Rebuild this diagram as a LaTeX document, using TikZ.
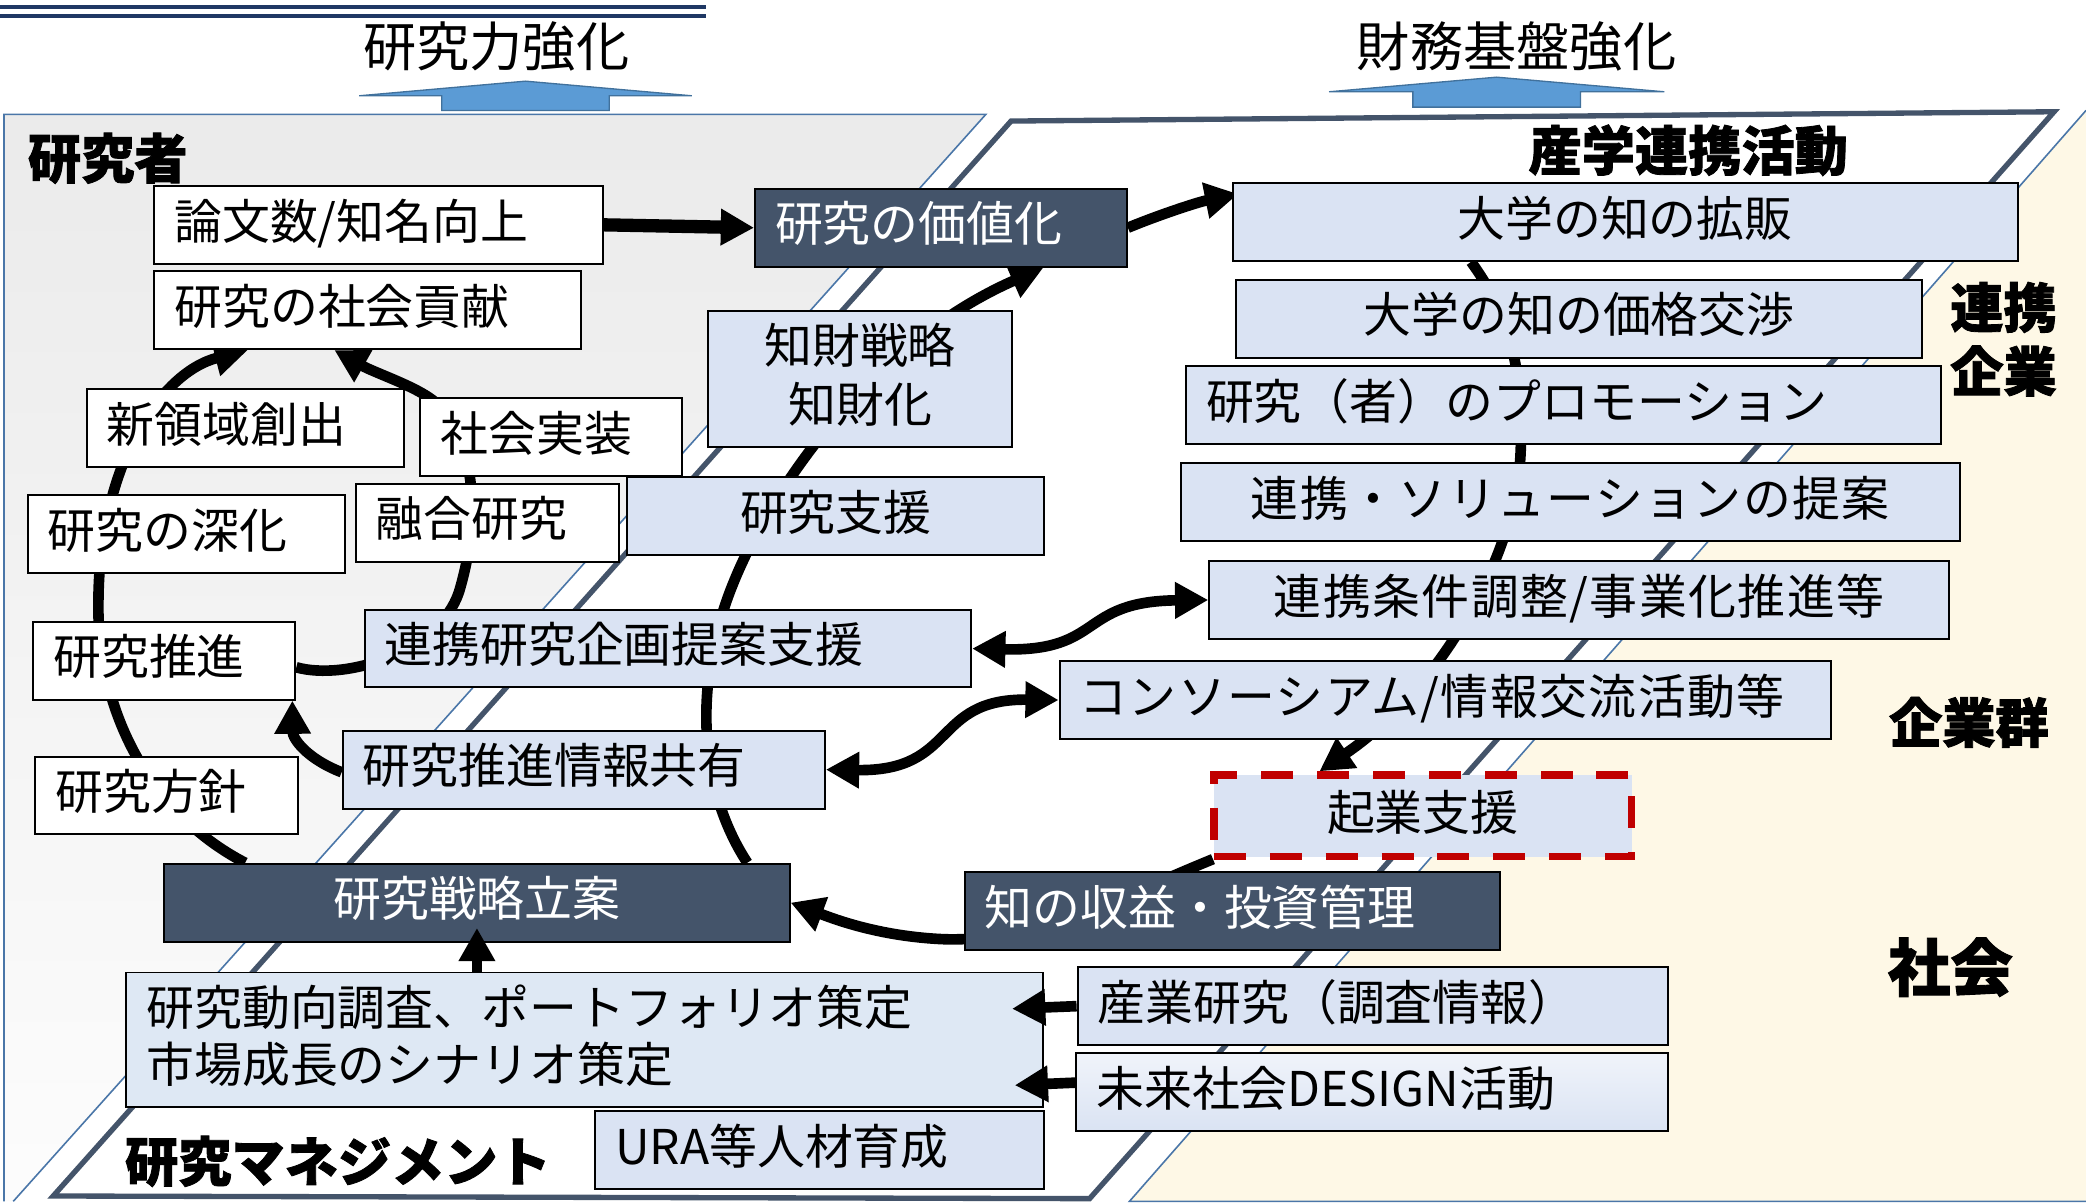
\documentclass[tikz,border=0pt]{standalone}
\usepackage{fontspec}
\setmainfont{Noto Sans CJK JP}[BoldFeatures={FakeBold=1.5}]
\newfontfamily\jpwide{Noto Sans CJK JP}[LetterSpace=3]
\usetikzlibrary{positioning, calc, arrows.meta}

\definecolor{slate}{HTML}{44546A}
\definecolor{boxblue}{HTML}{DAE3F3}
\definecolor{paleblue}{HTML}{DEE8F4}
\definecolor{cream}{HTML}{FEF8E6}
\definecolor{edgeblue}{HTML}{4A76A8}
\definecolor{navy}{HTML}{1F3864}
\definecolor{arrowblue}{HTML}{5B9BD5}
\definecolor{arrowedge}{HTML}{41719C}
\definecolor{redline}{HTML}{C00000}

\pgfdeclarelayer{back}
\pgfdeclarelayer{lines}
\pgfsetlayers{back,lines,main}

\begin{document}
\begin{tikzpicture}[x=1pt, y=-1pt,
    box/.style={draw, line width=1.5pt, minimum height=58.5pt, inner xsep=15pt, inner ysep=0pt, text depth=9pt, font=\fontsize{36}{43}\selectfont},
    wbox/.style={box, fill=white},
    bbox/.style={box, fill=boxblue},
    dbox/.style={box, fill=slate, text=white},
    wide/.style={font=\jpwide\fontsize{36}{43}\selectfont},
    lw/.style={text width=#1, align=left},
    cw/.style={minimum width=#1, align=center},
    title/.style={inner sep=0pt, align=center, font=\bfseries\fontsize{40}{48}\selectfont},
    toplabel/.style={inner sep=0pt, font=\fontsize{40}{48}\selectfont},
    link/.style={line width=8pt},
    arr/.style={link, -{Triangle[length=25pt, width=26pt]}},
    dblarr/.style={link, {Triangle[length=25pt, width=26pt]}-{Triangle[length=25pt, width=26pt]}},
    uparrow/.style={fill=arrowblue, draw=arrowedge, line width=1pt},
    thinedge/.style={draw=edgeblue, line width=1.2pt}]

    \useasboundingbox (0,0) rectangle (1568,904);

    % Regions
    \begin{pgfonlayer}{back}
        \draw[navy, line width=3pt] (0,5.5) -- (531,5.5);
        \draw[navy, line width=3pt] (0,12) -- (531,12);
        \shade[top color=black!8, bottom color=black!1] (3,86) -- (741,86) -- (10,903) -- (3,903) -- cycle;
        \draw[thinedge] (3,903) -- (3,86) -- (741,86) -- (10,903);
        \draw[slate, line width=4pt, fill=white] (760,91) -- (1544,84) -- (819,901) -- (40,899) -- cycle;
        \fill[cream] (1568,83) -- (849,903) -- (1568,903) -- cycle;
        \draw[thinedge] (1568,83) -- (849,903) -- (1568,903);
        \draw[uparrow] (270,72) -- (395,61) -- (520,72) -- (458,72) -- (458,83) -- (332,83) -- (332,72) -- cycle;
        \draw[uparrow] (999,69) -- (1125,58) -- (1251,69) -- (1188,69) -- (1188,80.5) -- (1062,80.5) -- (1062,69) -- cycle;
    \end{pgfonlayer}

    % Labels
    \node[toplabel] (power) at (373,35) {研究力強化};
    \node[toplabel] (finance) at (1140,35) {財務基盤強化};
    \node[title] (researcher) at (81,119) {研究者};
    \node[title] (collab) at (1269,113) {産学連携活動};
    \node[title] (partner) at (1506,255) {連携\\企業};
    \node[title] (firms) at (1480,543) {企業群};
    \node[title, font=\bfseries\fontsize{47}{52}\selectfont] (society) at (1466,727) {社会};
    \node[title] (mgmt) at (254,873) {研究マネジメント};

    % Researcher side
    \node[wbox, lw=307pt] (pub) at (284.5,169) {論文数/知名向上};
    \node[wbox, lw=290.5pt] (contrib) at (276.3,233.1) {研究の社会貢献};
    \node[wbox, lw=208.5pt] (newfield) at (184.3,321.9) {新領域創出};
    \node[wbox, lw=166.5pt] (implement) at (414.3,328.5) {社会実装};
    \node[wbox, lw=208pt] (deepen) at (140,401.4) {研究の深化};
    \node[wbox, lw=167.5pt] (fusion) at (366.3,393) {融合研究};
    \node[wbox, lw=167pt] (promote) at (123.5,496.6) {研究推進};
    \node[wbox, lw=167.5pt] (policy) at (125.3,598) {研究方針};
    \node[dbox, lw=249.5pt] (value) at (707.3,171.2) {研究の価値化};
    \node[bbox, cw=228pt, minimum height=102.5pt, font=\fontsize{36}{44}\selectfont] (ip) at (646.5,284.8) {知財戦略\\知財化};
    \node[bbox, cw=313.5pt] (support) at (628.3,388) {研究支援};
    \node[bbox, lw=426pt] (joint) at (502,487.5) {連携研究企画提案支援};
    \node[bbox, lw=332.5pt] (share) at (438.8,578.5) {研究推進情報共有};
    \node[dbox, cw=470pt] (plan) at (358.5,678.5) {研究戦略立案};
    \node[bbox, fill=paleblue, lw=659pt, minimum height=101pt, text depth=52pt] (survey) at (439.5,781.5) {研究動向調査、ポートフォリオ策定\\市場成長のシナリオ策定};
    \node[bbox, lw=307.5pt] (ura) at (616.3,864.3) {URA等人材育成};

    % Industry side
    \node[bbox, cw=590pt] (sales) at (1221.5,166.8) {大学の知の拡販};
    \node[bbox, cw=516pt] (price) at (1187,239.5) {大学の知の価格交渉};
    \node[bbox, lw=537.5pt] (promo) at (1175.3,304.2) {研究（者）のプロモーション};
    \node[bbox, wide, cw=585.5pt] (proposal) at (1180.3,377.5) {連携・ソリューションの提案};
    \node[bbox, wide, cw=556pt] (terms) at (1187,451) {連携条件調整/事業化推進等};
    \node[bbox, wide, lw=550pt] (consort) at (1086.5,526.2) {コンソーシアム/情報交流活動等};
    \node[box, draw=redline, line width=5.5pt, dash pattern=on 24pt off 18pt, fill=boxblue, cw=314pt, minimum height=61.5pt] (startup) at (1069.5,613.3) {起業支援};
    \node[dbox, lw=372.5pt] (profit) at (926.3,685) {知の収益・投資管理};
    \node[bbox, lw=414pt] (industry) at (1032,756.3) {産業研究（調査情報）};
    \node[bbox, top color=white!60!boxblue, bottom color=boxblue, lw=415pt] (future) at (1031.5,820.8) {未来社会DESIGN活動};

    % Loops
    \begin{pgfonlayer}{lines}
        \draw[arr] ($(plan.north west)+(61.5,0)$) .. controls (110,610) and (72,530) .. (74,450)
            .. controls (75,350) and (120,280) .. ($(contrib.south west)+(71,0)$);
        \draw[arr] ($(plan.north west)+(439,0)$) .. controls (530,600) and (520,530) .. (545,455)
            .. controls (570,380) and (650,260) .. ($(value.south west)+(217.5,0)$);
        \draw[arr] ($(share.west)+(0,2)$) .. controls (230,570) and (220,555) .. ($(promote.south east)+(-3,0)$);
        \draw[arr] ($(promote.east)+(0,5)$) .. controls (260,512) and (330,490) .. (345,445)
            .. controls (360,395) and (360,340) .. (330,305)
            .. controls (318,292) and (283,281) .. ($(contrib.south west)+(136,0)$);
        \draw[arr, line width=10pt] (pub.east) -- (value.west);
        \draw[arr] (value.east) .. controls (870,162) and (900,152) .. ($(sales.north west)+(5,9)$);
        \draw[arr] ($(sales.south west)+(180,0)$) .. controls (1130,230) and (1146,270) .. (1143,340)
            .. controls (1140,420) and (1080,520) .. ($(startup.north west)+(82,0)$);
        \draw[arr] ($(startup.south west)+(2,-1)$) .. controls (840,675) and (780,708) .. (710,706)
            .. controls (660,704) and (625,690) .. (plan.east);
        \draw[dblarr] (joint.east) .. controls (830,490) and (810,452) .. (terms.west);
        \draw[dblarr] (share.east) .. controls (720,580) and (700,525) .. (consort.west);
    \end{pgfonlayer}

    % Inputs
    \draw[arr] (plan.south |- survey.north) -- ($(plan.south)+(0,-11)$);
    \draw[arr] (industry.west) -- ($(survey.north east)+(-24,28)$);
    \draw[arr] ($(future.west)+(0,-7)$) -- ($(survey.south east)+(-22,-17)$);

\end{tikzpicture}
\end{document}
